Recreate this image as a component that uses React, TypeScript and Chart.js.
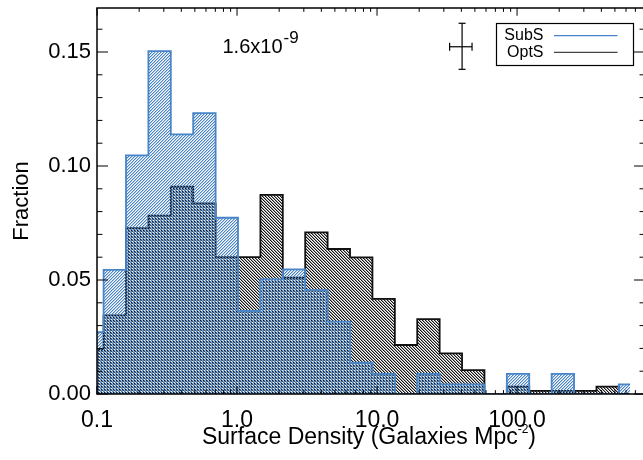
import React, { useEffect, useRef } from 'react';
import { Chart, registerables } from 'chart.js';

Chart.register(...registerables);

// ---- data ----
const binCenters = [0.0927, 0.134, 0.1937, 0.28, 0.4046, 0.585, 0.8455, 1.222, 1.766, 2.553, 3.69, 5.335, 7.711, 11.15, 16.11, 23.29, 33.67, 48.66, 70.34, 101.6, 146.9, 212.4, 307.0, 443.7, 641.3];
const subSFraction = [0.0271, 0.0544, 0.1047, 0.1504, 0.1139, 0.1232, 0.0773, 0.0364, 0.0503, 0.0547, 0.0456, 0.0317, 0.0137, 0.0088, 0.0, 0.0088, 0.0042, 0.0042, 0.0, 0.0088, 0.0, 0.0088, 0.0, 0.0, 0.0042];
const optSFraction = [0.0197, 0.0345, 0.0727, 0.0782, 0.0909, 0.0836, 0.06, 0.06, 0.0873, 0.051, 0.0709, 0.0636, 0.0599, 0.0417, 0.0215, 0.0328, 0.0178, 0.0105, 0.0, 0.0032, 0.0014, 0.0014, 0.0014, 0.0032, 0.0];
const seriesNames = ['SubS', 'OptS'];

const xMajorValues = [0.1, 1, 10, 100];
const xMajorLabels = ['0.1', '1.0', '10.0', '100.0'];
const xMinorValues = [0.2, 0.3, 0.4, 0.5, 0.6, 0.7, 0.8, 0.9, 2, 3, 4, 5, 6, 7, 8, 9, 20, 30, 40, 50, 60, 70, 80, 90, 200, 300, 400, 500, 600, 700, 800];
const yMajorValues = [0, 0.05, 0.1, 0.15];
const yMajorLabels = ['0.00', '0.05', '0.10', '0.15'];
const yMinorValues = [0.01, 0.02, 0.03, 0.04, 0.06, 0.07, 0.08, 0.09, 0.11, 0.12, 0.13, 0.14, 0.16];

// representative error bar: [low, centre, high]
const errorBarX = [33.0, 40.5, 47.7];
const errorBarY = [0.1424, 0.1523, 0.1626];

const annotationBase = '1.6x10';
const annotationExp = '-9';
const xTitleMain = 'Surface Density (Galaxies Mpc';
const xTitleExp = '-2';
const xTitleEnd = ')';
const yTitle = 'Fraction';

const X_MIN = 0.1;
const X_MAX = 820;
const Y_MIN = 0;
const Y_MAX = 0.1693;

const FONT = "'Liberation Sans', Arial, Helvetica, sans-serif";
const BLUE = 'rgb(72,132,200)';
const BLUE_RGB: [number, number, number] = [72, 132, 200];
const BLACK = '#111';
const BLACK_RGB: [number, number, number] = [20, 20, 20];

function makeHatch(ctx: CanvasRenderingContext2D, rgb: [number, number, number], dir: 'up' | 'down') {
  const n = 3;
  const c = document.createElement('canvas');
  c.width = n;
  c.height = n;
  const g = c.getContext('2d')!;
  const img = g.createImageData(n, n);
  for (let y = 0; y < n; y++) {
    for (let x = 0; x < n; x++) {
      let alpha = 0;
      if (dir === 'down') {
        if (x === y) alpha = 255;
        else if (x === (y + 1) % n) alpha = 110;
      } else {
        if (x + y === n - 1) alpha = 255;
        else if ((x + y) % n === 0 && !(x === 0 && y === 0 && false)) alpha = 110;
      }
      const i = (y * n + x) * 4;
      img.data[i] = rgb[0];
      img.data[i + 1] = rgb[1];
      img.data[i + 2] = rgb[2];
      img.data[i + 3] = alpha;
    }
  }
  g.putImageData(img, 0, 0);
  return ctx.createPattern(c, 'repeat')!;
}

const idlPlugin = {
  id: 'idlDecor',
  afterDraw(chart: any) {
    const { ctx, chartArea: a, scales } = chart;
    const xs = scales.x;
    const ys = scales.y;
    ctx.save();

    // frame
    ctx.strokeStyle = '#000';
    ctx.lineWidth = 1.5;
    ctx.strokeRect(a.left, a.top, a.right - a.left, a.bottom - a.top);

    // ticks (inward, IDL style)
    ctx.lineWidth = 1;
    const h = a.bottom - a.top;
    const w = a.right - a.left;
    const seg = (x1: number, y1: number, x2: number, y2: number) => {
      ctx.beginPath();
      ctx.moveTo(x1, y1);
      ctx.lineTo(x2, y2);
      ctx.stroke();
    };
    const xTick = (v: number, len: number) => {
      const p = xs.getPixelForValue(v);
      seg(p, a.bottom, p, a.bottom - len);
      seg(p, a.top, p, a.top + len);
    };
    const yTick = (v: number, len: number) => {
      const p = ys.getPixelForValue(v);
      seg(a.left, p, a.left + len, p);
      seg(a.right, p, a.right - len, p);
    };
    xMajorValues.forEach((v) => xTick(v, 0.02 * h));
    xMinorValues.forEach((v) => xTick(v, 0.01 * h));
    yMajorValues.forEach((v) => yTick(v, 0.02 * w));
    yMinorValues.forEach((v) => yTick(v, 0.01 * w));

    // error bar cross
    ctx.strokeStyle = '#000';
    ctx.lineWidth = 1.2;
    const ex0 = xs.getPixelForValue(errorBarX[0]);
    const ex1 = xs.getPixelForValue(errorBarX[1]);
    const ex2 = xs.getPixelForValue(errorBarX[2]);
    const ey0 = ys.getPixelForValue(errorBarY[0]);
    const ey1 = ys.getPixelForValue(errorBarY[1]);
    const ey2 = ys.getPixelForValue(errorBarY[2]);
    seg(ex1, ey0, ex1, ey2);
    seg(ex1 - 3.5, ey0, ex1 + 3.5, ey0);
    seg(ex1 - 3.5, ey2, ex1 + 3.5, ey2);
    seg(ex0, ey1, ex2, ey1);
    seg(ex0, ey1 - 4, ex0, ey1 + 4);
    seg(ex2, ey1 - 4, ex2, ey1 + 4);

    // legend box
    const lx = 496.5, ly = 23.5, lw = 137, lh = 42;
    ctx.lineWidth = 1.2;
    ctx.strokeStyle = '#000';
    ctx.strokeRect(lx, ly, lw, lh);
    ctx.fillStyle = '#000';
    ctx.font = `16px ${FONT}`;
    ctx.textAlign = 'right';
    ctx.textBaseline = 'alphabetic';
    ctx.fillText(seriesNames[0], 543.5, 40);
    ctx.fillText(seriesNames[1], 543.5, 57.3);
    ctx.lineWidth = 1.3;
    ctx.strokeStyle = BLUE;
    seg(554, 35.7, 617.5, 35.7);
    ctx.strokeStyle = '#444';
    seg(554, 52.3, 617.5, 52.3);

    // annotation 1.6x10^-9
    ctx.fillStyle = '#000';
    ctx.textAlign = 'left';
    ctx.font = `20px ${FONT}`;
    const ax = 222.5;
    ctx.fillText(annotationBase, ax, 53.3);
    const aw = ctx.measureText(annotationBase).width;
    ctx.font = `17px ${FONT}`;
    ctx.fillText(annotationExp, ax + aw + 1, 43.3);

    // x title with superscript
    ctx.font = `23px ${FONT}`;
    const w1 = ctx.measureText(xTitleMain).width;
    const w3 = ctx.measureText(xTitleEnd).width;
    ctx.font = `12px ${FONT}`;
    const w2 = ctx.measureText(xTitleExp).width;
    const total = w1 + w2 + w3;
    const cx = 369;
    let tx = cx - total / 2;
    ctx.font = `23px ${FONT}`;
    ctx.fillText(xTitleMain, tx, 444.3);
    tx += w1;
    ctx.font = `12px ${FONT}`;
    ctx.fillText(xTitleExp, tx, 433);
    tx += w2;
    ctx.font = `23px ${FONT}`;
    ctx.fillText(xTitleEnd, tx, 444.3);

    // y title
    ctx.save();
    ctx.translate(27.5, (a.top + a.bottom) / 2);
    ctx.rotate(-Math.PI / 2);
    ctx.textAlign = 'center';
    ctx.font = `22px ${FONT}`;
    ctx.fillText(yTitle, 0, 0);
    ctx.restore();

    ctx.restore();
  },
};

export default function App() {
  const canvasRef = useRef<HTMLCanvasElement | null>(null);

  useEffect(() => {
    const canvas = canvasRef.current!;
    const ctx = canvas.getContext('2d')!;
    const blueHatch = makeHatch(ctx, BLUE_RGB, 'up');
    const blackHatch = makeHatch(ctx, BLACK_RGB, 'down');

    const chart = new Chart(canvas, {
      type: 'line',
      data: {
        datasets: [
          {
            label: seriesNames[0],
            data: binCenters.map((x, i) => ({ x, y: subSFraction[i] })),
            borderColor: BLUE,
            borderWidth: 1.8,
            backgroundColor: blueHatch as any,
            fill: 'origin',
            stepped: 'middle',
            pointRadius: 0,
            tension: 0,
          },
          {
            label: seriesNames[1],
            data: binCenters.map((x, i) => ({ x, y: optSFraction[i] })),
            borderColor: BLACK,
            borderWidth: 1.8,
            backgroundColor: blackHatch as any,
            fill: 'origin',
            stepped: 'middle',
            pointRadius: 0,
            tension: 0,
          },
        ],
      },
      options: {
        responsive: false,
        animation: false,
        devicePixelRatio: 1,
        layout: { padding: { top: 8, right: 15, left: 0, bottom: 0 } },
        plugins: { legend: { display: false }, tooltip: { enabled: false } },
        scales: {
          x: {
            type: 'logarithmic',
            min: X_MIN,
            max: X_MAX,
            grid: { display: false, drawTicks: false },
            border: { display: false },
            ticks: {
              autoSkip: false,
              maxRotation: 0,
              minRotation: 0,
              padding: 13,
              color: '#000',
              font: { family: FONT, size: 23 },
              callback: (v: any) => {
                const i = xMajorValues.findIndex((m) => Math.abs(m - Number(v)) < 1e-9);
                return i >= 0 ? xMajorLabels[i] : '';
              },
            },
            afterBuildTicks: (s: any) => {
              s.ticks = xMajorValues.map((v) => ({ value: v, major: true }));
            },
            afterFit: (s: any) => {
              s.height = 66;
              s.paddingLeft = 0;
              s.paddingRight = 0;
              s.paddingTop = 0;
              s.paddingBottom = 0;
            },
          },
          y: {
            type: 'linear',
            min: Y_MIN,
            max: Y_MAX,
            grid: { display: false, drawTicks: false },
            border: { display: false },
            ticks: {
              autoSkip: false,
              padding: 6,
              color: '#000',
              font: { family: FONT, size: 22 },
              callback: (v: any) => {
                const i = yMajorValues.findIndex((m) => Math.abs(m - Number(v)) < 1e-9);
                return i >= 0 ? yMajorLabels[i] : '';
              },
            },
            afterBuildTicks: (s: any) => {
              s.ticks = yMajorValues.map((v) => ({ value: v }));
            },
            afterFit: (s: any) => {
              s.width = 97;
              s.paddingLeft = 0;
              s.paddingRight = 0;
              s.paddingTop = 0;
              s.paddingBottom = 0;
            },
          },
        },
      } as any,
      plugins: [idlPlugin],
    });
    return () => chart.destroy();
  }, []);

  return (
    <div style={{ position: 'fixed', left: 0, top: 0, width: 660, height: 460, background: '#fff' }}>
      <canvas ref={canvasRef} width={660} height={460} style={{ width: 660, height: 460, display: 'block' }} />
    </div>
  );
}
